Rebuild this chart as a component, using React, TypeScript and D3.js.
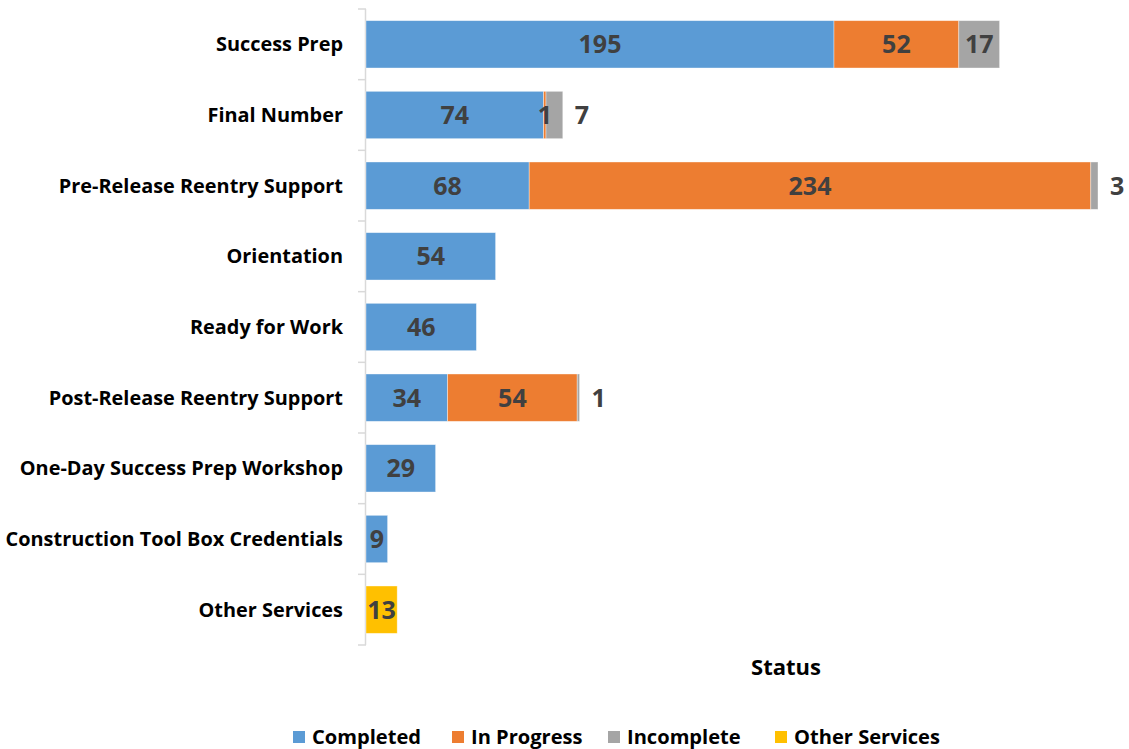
import React from "react";
import * as d3 from "d3";

const categories = [
  "Success Prep",
  "Final Number",
  "Pre-Release Reentry Support",
  "Orientation",
  "Ready for Work",
  "Post-Release Reentry Support",
  "One-Day Success Prep Workshop",
  "Construction Tool Box Credentials",
  "Other Services",
];
const completed = [195, 74, 68, 54, 46, 34, 29, 9, 0];
const inProgress = [52, 1, 234, 0, 0, 54, 0, 0, 0];
const incomplete = [17, 7, 3, 0, 0, 1, 0, 0, 0];
const otherServices = [0, 0, 0, 0, 0, 0, 0, 0, 13];
const seriesNames = ["Completed", "In Progress", "Incomplete", "Other Services"];
const seriesColors = ["#5B9BD5", "#ED7D31", "#A5A5A5", "#FFC000"];
const xMax = 300;

const FONT = "'Open Sans', Lato, sans-serif";

export default function App() {
  const W = 1129;
  const H = 749;
  const x = d3.scaleLinear().domain([0, xMax]).range([366, 1086]);
  const y = d3
    .scaleBand<string>()
    .domain(categories)
    .range([9, 645])
    .paddingInner(0.33)
    .paddingOuter(0.165);

  const rows = categories.map((c, i) => ({
    cat: c,
    "Completed": completed[i],
    "In Progress": inProgress[i],
    "Incomplete": incomplete[i],
    "Other Services": otherServices[i],
  }));
  const stack = d3.stack<any>().keys(seriesNames);
  const layers = stack(rows);

  const step = y.step();
  const y0 = y.range()[0];
  const tickYs = d3.range(categories.length + 1).map((i) => y0 + i * step);

  const legendItems = [
    { name: "Completed", mx: 293, tx: 312 },
    { name: "In Progress", mx: 452, tx: 471 },
    { name: "Incomplete", mx: 608, tx: 627 },
    { name: "Other Services", mx: 775, tx: 794 },
  ];

  return (
    <svg
      width={W}
      height={H}
      style={{ position: "absolute", left: 0, top: 0, background: "#fff" }}
    >
      {/* axis line and ticks */}
      <line x1={365.5} x2={365.5} y1={y0} y2={645} stroke="#D9D9D9" strokeWidth={1.5} />
      {tickYs.map((ty, i) => (
        <line key={i} x1={358} x2={366} y1={ty} y2={ty} stroke="#D9D9D9" strokeWidth={1.5} />
      ))}

      {/* bars */}
      {layers.map((layer, li) => (
        <g key={layer.key}>
          {layer.map((d, i) => {
            const v = d[1] - d[0];
            if (v <= 0) return null;
            const x0 = x(d[0]);
            const x1 = x(d[1]);
            return (
              <rect
                key={i}
                x={x0}
                y={y(categories[i])}
                width={x1 - x0}
                height={y.bandwidth()}
                fill={seriesColors[li]}
                stroke="#ffffff"
                strokeOpacity={0.5}
                strokeWidth={0.75}
              />
            );
          })}
        </g>
      ))}

      {/* data labels */}
      {layers.map((layer, li) => (
        <g key={"l" + layer.key}>
          {layer.map((d, i) => {
            const v = d[1] - d[0];
            if (v <= 0) return null;
            const x0 = x(d[0]);
            const x1 = x(d[1]);
            const cy = (y(categories[i]) as number) + y.bandwidth() / 2;
            const outside = layer.key === "Incomplete" && x1 - x0 < 25;
            return (
              <text
                key={i}
                x={outside ? x1 + 12 : (x0 + x1) / 2}
                y={cy}
                dy="0.36em"
                textAnchor={outside ? "start" : "middle"}
                fontFamily={FONT}
                fontWeight={700}
                fontSize={25}
                fill="#404040"
              >
                {v}
              </text>
            );
          })}
        </g>
      ))}

      {/* category labels */}
      {categories.map((c) => (
        <text
          key={c}
          x={343}
          y={(y(c) as number) + y.bandwidth() / 2}
          dy="0.36em"
          textAnchor="end"
          fontFamily={FONT}
          fontWeight={700}
          fontSize={19.9}
          fill="#000"
        >
          {c}
        </text>
      ))}

      {/* axis title */}
      <text
        x={786}
        y={667}
        dy="0.36em"
        textAnchor="middle"
        fontFamily={FONT}
        fontWeight={700}
        fontSize={22}
        fill="#000"
      >
        Status
      </text>

      {/* legend */}
      {legendItems.map((it, i) => (
        <g key={it.name}>
          <rect x={it.mx} y={731} width={12} height={12} fill={seriesColors[i]} />
          <text
            x={it.tx}
            y={737}
            dy="0.36em"
            fontFamily={FONT}
            fontWeight={700}
            fontSize={20.1}
            fill="#000"
          >
            {it.name}
          </text>
        </g>
      ))}
    </svg>
  );
}
